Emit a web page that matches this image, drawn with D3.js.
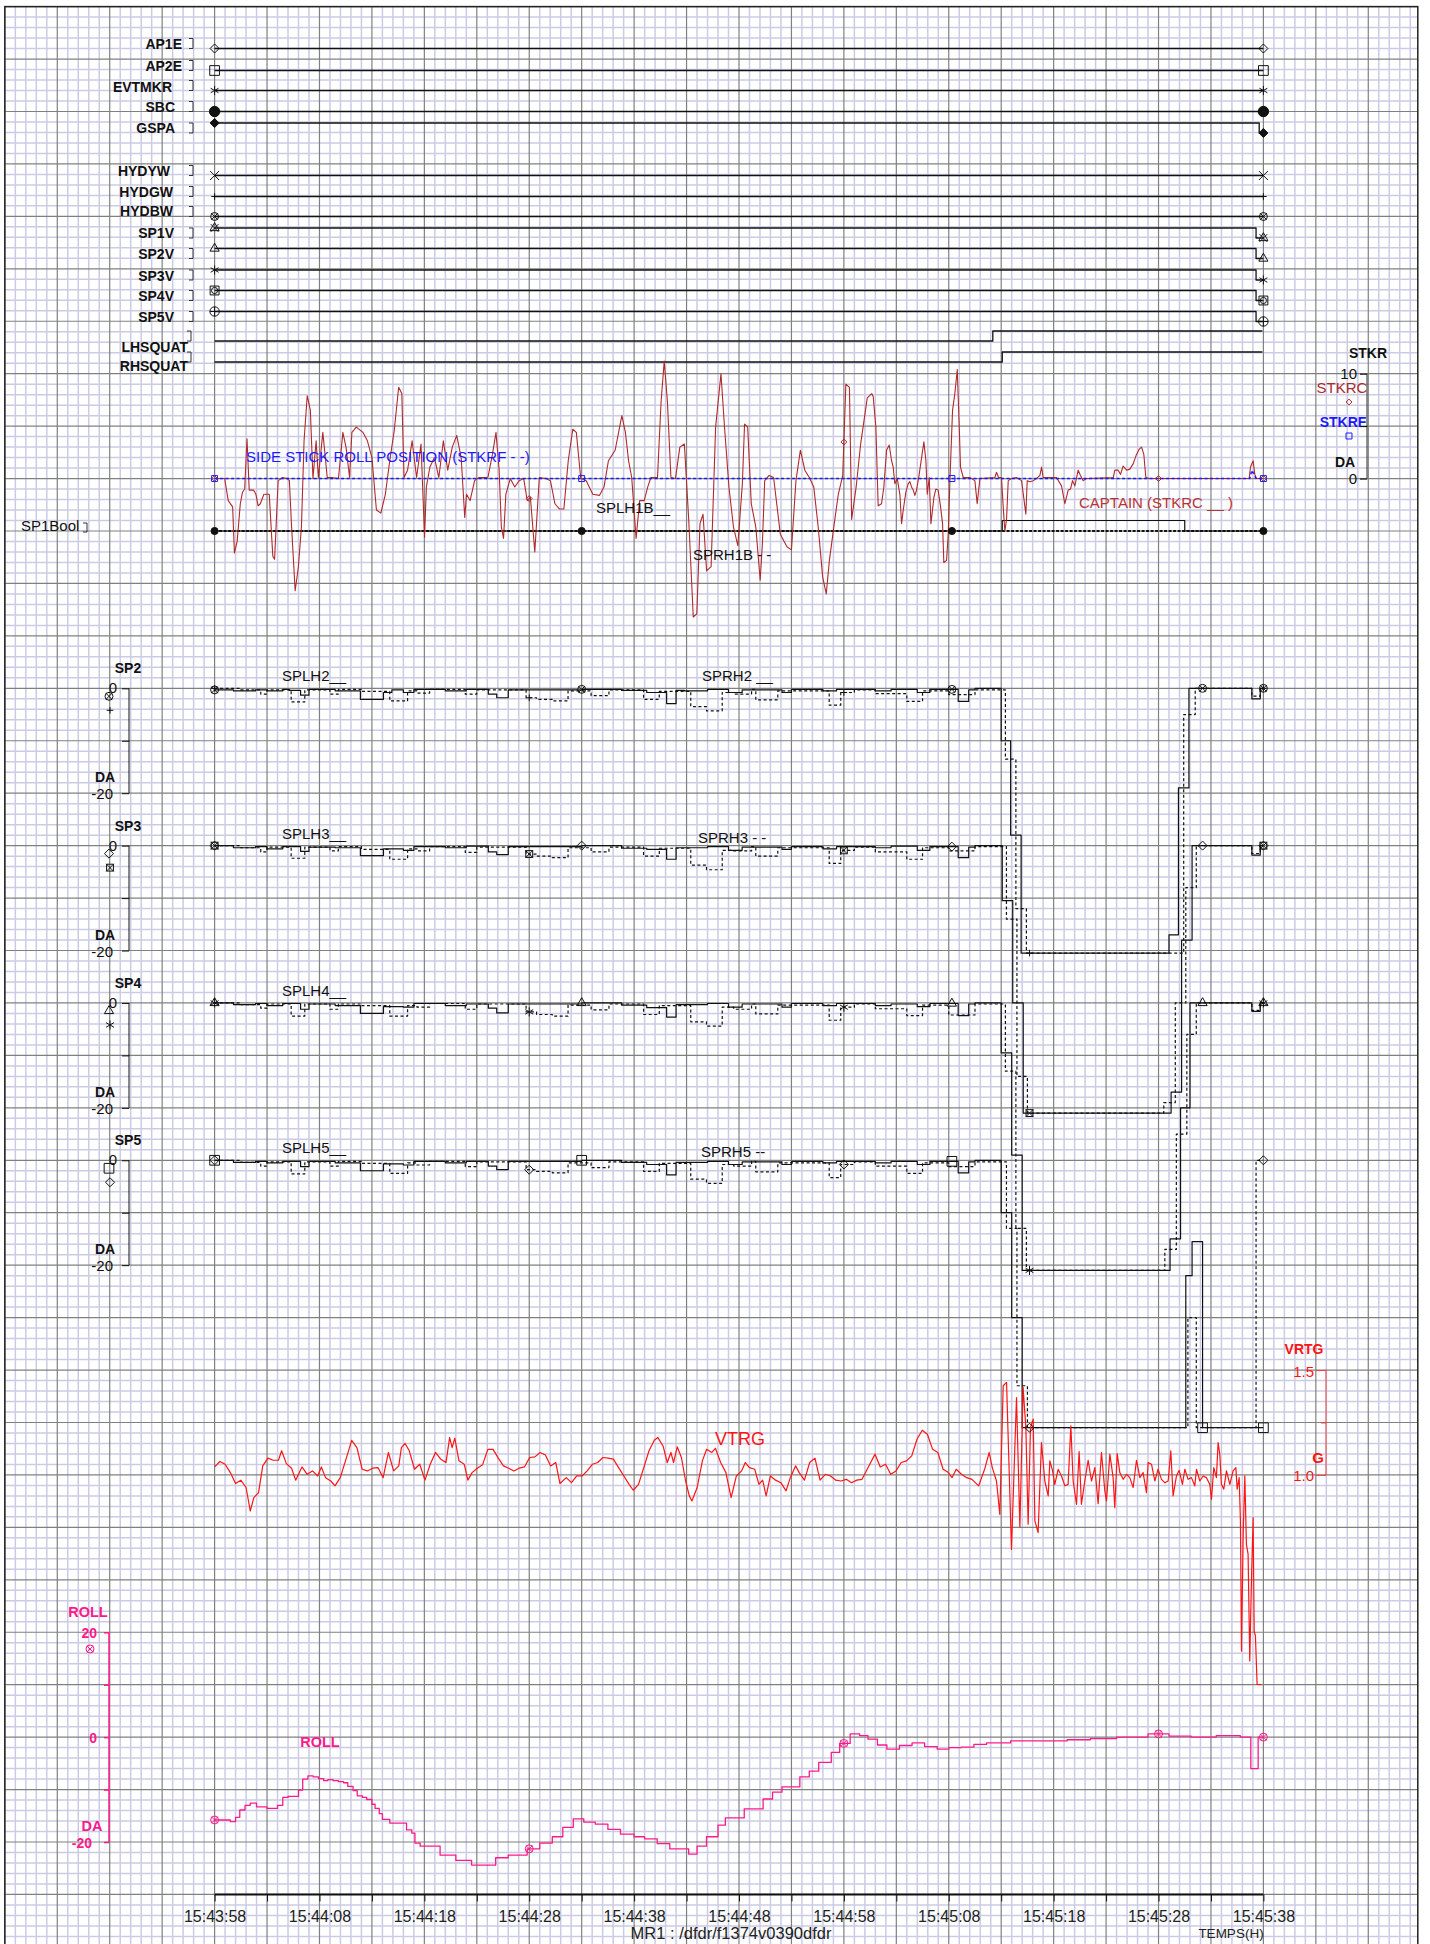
<!DOCTYPE html>
<html>
<head>
<meta charset="utf-8">
<script src="https://cdn.jsdelivr.net/npm/d3@7"></script>
<style>
body { margin: 0; background: #fff; }
text { font-family: "Liberation Sans", Arial, sans-serif; }
</style>
</head>
<body>
<script>
//////////////////////////////////////////////////////////////////////////////
// Data (time in seconds after 15:43:58)

var startClock = [15, 43, 58];
var timeTicks = [0, 10, 20, 30, 40, 50, 60, 70, 80, 90, 100];

var discNames = ["AP1E", "AP2E", "EVTMKR", "SBC", "GSPA", "HYDYW", "HYDGW", "HYDBW",
                 "SP1V", "SP2V", "SP3V", "SP4V", "SP5V", "LHSQUAT", "RHSQUAT"];
var discSteps = [
    [[0, 0], [100, 0]],
    [[0, 0], [100, 0]],
    [[0, 0], [100, 0]],
    [[0, 0], [100, 0]],
    [[0, 1], [99.6, 0], [100, 0]],
    [[0, 0], [100, 0]],
    [[0, 0], [100, 0]],
    [[0, 0], [100, 0]],
    [[0, 1], [99.3, 0], [100, 0]],
    [[0, 1], [99.3, 0], [100, 0]],
    [[0, 1], [99.3, 0], [100, 0]],
    [[0, 1], [99.3, 0], [100, 0]],
    [[0, 1], [99.3, 0], [100, 0]],
    [[0, 0], [74.2, 1], [99.9, 1]],
    [[0, 0], [75.1, 1], [99.9, 1]]
];

// side stick roll, captain (STKRC) and first officer (STKRF), DA
var stkrc = [
[0,0],[0.96,0],[1.30,-2.1],[1.72,-2.7],[1.89,-7.1],[2.15,-6.0],[2.45,-2.4],[2.66,-1.3],[2.87,-1.0],[3.09,3.8],[3.30,-1.1],[3.72,-1.1],[3.94,-1.5],[4.15,-2.6],[4.36,-2.4],[4.70,-1.5],[5.21,-1.5],[5.55,-7.4],[5.72,-7.7],[6.06,-0.2],[6.49,0.1],[6.91,0],[7.13,-0.2],[7.34,-4.6],[7.68,-10.7],[7.98,-8.5],[8.28,-4.6],[8.53,3.6],[8.83,7.9],[9.13,6.5],[9.38,0],[9.68,3.6],[9.89,0.1],[10.32,4.4],[10.74,0.1],[11.17,0.1],[11.81,0],[12.23,4.4],[12.53,3.0],[12.87,0.1],[13.09,4.4],[13.51,4.9],[14.15,4.4],[14.57,3.6],[15.0,2.0],[15.43,-3.0],[15.85,-3.3],[16.28,-1.5],[16.7,1.7],[17.13,4.6],[17.55,8.7],[17.85,8.1],[18.06,0.1],[18.4,0.8],[18.83,3.6],[19.26,0.1],[19.68,3.3],[20.02,-5.6],[20.19,-0.8],[20.53,1.1],[20.96,2.0],[21.38,0.1],[21.81,3.6],[22.23,0.8],[22.66,3.0],[23.09,4.1],[23.51,2.0],[23.85,-3.7],[24.02,-1.5],[24.36,-2.1],[24.79,-0.2],[25.21,0.1],[26.06,0.1],[26.49,2.3],[26.83,4.4],[27.13,0.8],[27.34,-4.6],[27.55,-5.7],[27.77,-1.5],[28.19,0],[28.62,-0.8],[29.04,-0.2],[29.47,0],[29.81,-2.1],[30.11,-1.8],[30.53,-7.0],[30.96,0.1],[31.6,0],[32.02,-0.2],[32.45,-2.4],[32.87,-2.9],[33.3,-2.9],[33.72,1.7],[34.15,4.7],[34.49,4.4],[34.91,0],[35.43,-0.2],[36.06,-1.5],[36.7,-1.6],[37.13,-0.8],[37.55,1.7],[38.19,2.7],[38.83,6.0],[39.17,4.4],[39.47,1.7],[39.77,0.1],[40.19,-5.7],[40.53,-2.1],[40.96,-2.1],[41.3,-0.8],[41.6,0.1],[42.23,0.1],[42.57,7.3],[42.87,11.2],[43.17,7.4],[43.51,0.1],[43.94,0],[44.36,3.0],[44.79,3.3],[45.21,-4.0],[45.64,-13.2],[45.98,-12.9],[46.28,-4.3],[46.57,-3.4],[46.91,-8.8],[47.34,-8.4],[47.77,4.9],[48.28,10.0],[48.62,4.9],[49.04,-0.8],[49.47,-4.6],[49.89,-6.4],[50.32,-0.5],[50.53,5.2],[50.83,4.9],[51.17,-2.4],[51.6,-4.6],[52.02,-9.7],[52.23,-6.2],[52.45,-0.2],[52.87,0.3],[53.3,0.1],[53.94,-5.3],[54.57,-6.5],[55.0,-6.8],[55.43,-0.2],[55.85,2.7],[56.28,0.8],[56.7,0.1],[57.13,-0.8],[57.55,-4.6],[57.98,-9.4],[58.32,-11.0],[58.62,-7.8],[59.04,-4.6],[59.47,-1.5],[59.89,0.3],[60.19,9.0],[60.53,8.7],[60.74,-3.9],[61.17,-0.8],[61.6,3.3],[62.23,7.7],[62.66,8.1],[62.8,7.8],[63.05,4.9],[63.27,-2.6],[63.59,-2.4],[63.81,-0.8],[64.07,2.7],[64.32,3.2],[64.55,1.7],[64.7,1.1],[64.86,-0.5],[65.09,0],[65.34,-1.5],[65.5,-4.3],[65.66,-3.0],[65.91,-1.3],[66.13,-0.5],[66.29,-0.3],[66.45,-0.8],[66.61,-1.1],[66.77,-1.6],[66.93,-1.1],[67.18,0.4],[67.41,2.0],[67.63,3.5],[67.82,1.7],[67.95,-1.5],[68.14,0.1],[68.3,-4.3],[68.45,-3.0],[68.58,-1.8],[68.77,-1.0],[68.99,-1.1],[69.22,-2.7],[69.41,-4.3],[69.53,-8.0],[69.79,-7.8],[69.95,-5.3],[70.11,-0.2],[70.36,6.5],[70.58,8.1],[70.81,10.4],[71.0,4.9],[71.12,1.1],[71.38,0.1],[72.01,0.1],[72.49,-0.2],[72.71,-2.4],[72.97,0],[74.4,0.1],[74.55,0.6],[74.75,0.1],[75.03,0.1],[75.19,-2.7],[75.35,-5.0],[75.51,-3.9],[75.67,-0.2],[75.99,0],[76.46,0.1],[76.94,-0.2],[77.16,-1.9],[77.35,-3.4],[77.48,-0.2],[77.73,-0.3],[78.05,-0.2],[78.37,0],[78.69,0.3],[78.85,1.1],[79.0,0.1],[80.27,0.1],[80.75,-0.7],[81.07,-2.4],[81.39,-1.1],[81.61,-1.0],[81.8,-0.2],[82.02,-0.7],[82.34,0.8],[82.56,0.3],[82.82,-0.2],[83.13,0],[85.68,0.1],[85.84,0.8],[86.15,0.8],[86.38,0.4],[86.63,1.2],[86.95,0.8],[87.27,0.9],[87.58,1.4],[87.9,2.3],[88.16,2.8],[88.38,3.0],[88.6,2.3],[88.79,0.1],[89.17,0],[98.64,0],[98.77,1.1],[99.02,1.7],[99.18,0.4],[99.34,0],[100,0]
];
var stkrf = [[0, 0], [98.7, 0], [98.9, 0.8], [99.3, 0], [100, 0]];

// spoiler 1 booleans
var splh1b = [[0, 0], [75.1, 1], [92.5, 0], [100, 0]];
var sprh1b = [[0, 0], [100, 0]];

// spoilers 2..5, left (solid) and right (dashed), DA
var splh2 = [[0,-0.3],[1.8,-0.5],[3.9,-0.3],[5.0,-0.5],[6.5,-0.2],[7.1,-0.4],[8.2,-1.3],[9.0,-0.2],[11.5,-0.5],[13.9,-2.1],[16.1,-0.8],[16.9,-0.3],[18.0,-0.8],[19.0,-0.2],[22,-0.5],[24,-0.2],[26.1,-1.1],[26.9,-1.8],[28.0,-0.3],[35.0,-0.2],[38.8,-0.4],[41.2,-0.8],[43.1,-2.9],[44.0,-0.4],[44.8,-0.5],[47.0,-0.2],[49.0,-0.8],[50.3,-0.3],[54.1,-0.8],[55.0,-0.2],[58.0,-0.5],[59.3,-0.2],[63,-0.5],[64.5,-0.2],[67,-0.8],[68.2,-0.2],[70.9,-2.5],[71.9,-0.3],[72.5,0],[75.0,-10],[75.9,-28],[76.9,-50.5],[91.0,-47],[91.9,-19],[92.9,0],[98.9,-2],[99.7,0],[100,0]];
var sprh2 = [[0,0],[2.5,-0.3],[4.4,-1.1],[5.0,-0.3],[7.3,-2.6],[8.6,-0.3],[11.0,-1.1],[11.8,-0.2],[14,-0.6],[16.7,-2.4],[18.4,-0.5],[19.3,-0.9],[20.5,-0.2],[23.9,-1.1],[25.0,-0.3],[29.7,-1.8],[30.7,-2.1],[32.2,-2.4],[33.7,-0.5],[35.9,-1.4],[37.6,-0.3],[40.9,-2.1],[42.4,-0.6],[45.4,-3.5],[46.9,-4.3],[48.4,-0.8],[49.5,-1.1],[51.2,-0.2],[51.6,-2.2],[53.7,-0.5],[58.6,-3.2],[59.7,-0.8],[61,-0.3],[63,-1.0],[66,-2.5],[67.5,-0.5],[70,-1.2],[72.5,-0.3],[75.4,-13.5],[76.4,-42],[77.4,-50.5],[92.4,-5],[93.5,0],[98.9,-1.5],[99.7,0],[100,0]];
var splh3 = [[0,0],[1.8,-0.4],[3.9,-0.2],[5.0,-0.6],[6.5,-0.2],[8.2,-1.1],[9.0,-0.3],[11.5,-0.4],[13.9,-1.9],[16.1,-0.6],[18.0,-0.9],[19.0,-0.2],[22,-0.4],[24,-0.1],[26.1,-1.2],[26.9,-1.7],[28.0,-0.2],[35.0,0],[38.8,-0.5],[41.2,-0.7],[43.1,-2.6],[44.0,-0.4],[47.0,-0.2],[49.0,-0.9],[50.3,-0.3],[54.1,-0.7],[55.0,-0.2],[58.0,-0.6],[59.3,-0.2],[63,-0.4],[64.5,-0.1],[67,-0.9],[68.2,-0.2],[70.9,-2.3],[71.9,-0.3],[72.5,0],[75.1,-10.5],[76.1,-30],[77.1,-51],[91.2,-47],[92.2,-18],[93.2,0],[98.9,-1.8],[99.7,0],[100,0]];
var sprh3 = [[0,0],[2.5,-0.4],[4.4,-1.2],[5.0,-0.3],[7.3,-2.4],[8.6,-0.3],[11.0,-1.0],[11.8,-0.2],[14,-0.7],[16.7,-2.6],[18.4,-0.6],[19.3,-1.0],[20.5,-0.2],[23.9,-1.3],[25.0,-0.3],[29.7,-1.6],[30.7,-2.0],[32.2,-2.3],[33.7,-0.4],[35.9,-1.2],[37.6,-0.3],[40.9,-2.0],[42.4,-0.5],[45.4,-3.7],[46.9,-4.6],[48.4,-0.9],[49.5,-1.0],[51.2,-0.2],[51.6,-2.0],[53.7,-0.4],[58.6,-3.4],[59.7,-0.9],[61,-0.3],[63,-1.2],[66,-2.6],[67.5,-0.4],[70,-1.0],[72.5,-0.2],[75.5,-14],[76.5,-44],[77.5,-51],[90.5,-49],[91.6,-30],[92.6,-8],[93.6,0],[98.9,-1.5],[99.7,0],[100,0]];
var splh4 = [[0,0],[1.8,-0.3],[3.9,-0.1],[5.0,-0.5],[6.5,-0.1],[8.2,-1.2],[9.0,-0.2],[11.5,-0.5],[13.9,-2.0],[16.1,-0.7],[18.0,-0.8],[19.0,-0.1],[22,-0.5],[24,-0.2],[26.1,-1.0],[26.9,-1.9],[28.0,-0.2],[35.0,0],[38.8,-0.4],[41.2,-0.9],[43.1,-2.7],[44.0,-0.3],[47.0,-0.1],[49.0,-0.8],[50.3,-0.2],[54.1,-0.8],[55.0,-0.1],[58.0,-0.5],[59.3,-0.1],[63,-0.5],[64.5,-0.2],[67,-0.7],[68.2,-0.1],[70.9,-2.4],[71.9,-0.2],[72.5,0],[75.0,-9.5],[76.0,-29],[77.0,-51],[91.1,-45],[92.1,-20],[93.0,0],[98.9,-1.6],[99.7,0],[100,0]];
var sprh4 = [[0,0],[2.5,-0.3],[4.4,-1.0],[5.0,-0.2],[7.3,-2.5],[8.6,-0.2],[11.0,-1.2],[11.8,-0.2],[14,-0.5],[16.7,-2.5],[18.4,-0.5],[19.3,-0.8],[20.5,-0.1],[23.9,-1.2],[25.0,-0.2],[29.7,-1.7],[30.7,-2.2],[32.2,-2.5],[33.7,-0.4],[35.9,-1.3],[37.6,-0.2],[40.9,-2.2],[42.4,-0.5],[45.4,-3.6],[46.9,-4.4],[48.4,-0.8],[49.5,-1.2],[51.2,-0.2],[51.6,-2.1],[53.7,-0.4],[58.6,-3.3],[59.7,-0.8],[61,-0.2],[63,-1.1],[66,-2.4],[67.5,-0.4],[70,-2.3],[72.5,-0.2],[75.4,-13],[76.4,-43],[77.4,-51],[90.6,-47],[91.7,-25],[92.7,-6],[93.6,0],[98.9,-1.4],[99.7,0],[100,0]];
var splh5 = [[0,0],[1.8,-0.4],[3.9,-0.2],[5.0,-0.5],[6.5,-0.2],[8.2,-1.2],[9.0,-0.2],[11.5,-0.5],[13.9,-2.0],[16.1,-0.7],[18.0,-0.9],[19.0,-0.2],[22,-0.5],[24,-0.2],[26.1,-1.1],[26.9,-1.8],[28.0,-0.2],[35.0,0],[38.8,-0.4],[41.2,-0.8],[43.1,-2.8],[44.0,-0.4],[47.0,-0.2],[49.0,-0.8],[50.3,-0.3],[54.1,-0.8],[55.0,-0.2],[58.0,-0.5],[59.3,-0.2],[63,-0.5],[64.5,-0.2],[67,-0.8],[68.2,-0.2],[70.9,-2.4],[71.9,-0.3],[72.5,0],[75.0,-10],[76.0,-30],[77.0,-51],[92.6,-22],[93.2,-15.5],[94.2,-51],[100,-51]];
var sprh5 = [[0,0],[2.5,-0.4],[4.4,-1.1],[5.0,-0.3],[7.3,-2.6],[8.6,-0.3],[11.0,-1.1],[11.8,-0.2],[14,-0.6],[16.7,-2.5],[18.4,-0.5],[19.3,-0.9],[20.5,-0.2],[23.9,-1.2],[25.0,-0.3],[29.7,-1.8],[30.7,-2.1],[32.2,-2.4],[33.7,-0.5],[35.9,-1.4],[37.6,-0.3],[40.9,-2.1],[42.4,-0.6],[45.4,-3.6],[46.9,-4.4],[48.4,-0.8],[49.5,-1.1],[51.2,-0.2],[51.6,-2.2],[53.7,-0.5],[58.6,-3.3],[59.7,-0.8],[61,-0.3],[63,-1.1],[66,-2.5],[67.5,-0.5],[70,-1.2],[72.5,-0.3],[75.5,-13],[76.5,-43],[77.5,-51],[92.8,-30],[93.6,-51],[99.3,0],[100,0]];

// vertical acceleration, G
var vrtg = [
[0,1.038],[0.5,1.064],[1.0,1.051],[1.5,1.011],[2.0,0.959],[2.5,0.975],[3.0,0.940],[3.4,0.828],[3.74,0.892],[4.19,0.916],[4.59,1.043],[5.09,1.080],[5.59,1.070],[6.09,1.070],[6.39,1.115],[6.84,1.054],[7.34,1.032],[7.73,0.975],[8.33,1.038],[8.83,1.003],[9.33,1.019],[9.83,0.995],[10.18,1.038],[10.58,0.987],[11.08,0.971],[11.48,0.948],[11.98,0.987],[12.48,1.067],[13.07,1.165],[13.57,1.130],[14.07,1.027],[14.57,1.019],[15.07,1.032],[15.57,1.035],[16.07,0.987],[16.57,1.107],[17.07,1.019],[17.56,1.043],[17.81,1.130],[18.16,1.150],[18.56,1.115],[19.06,1.027],[19.56,1.051],[20.06,0.975],[20.56,1.051],[21.06,1.107],[21.56,1.075],[22.06,1.059],[22.41,1.178],[22.65,1.130],[22.9,1.175],[23.3,1.067],[23.8,1.051],[24.15,0.975],[24.55,1.011],[25.05,1.032],[25.55,1.048],[26.05,1.122],[26.55,1.122],[27.05,1.080],[27.54,1.043],[28.04,1.032],[28.54,1.019],[29.04,1.032],[29.54,1.038],[30.04,1.083],[30.54,1.086],[31.04,1.107],[31.54,1.095],[32.04,1.043],[32.53,1.059],[32.93,0.959],[33.53,0.987],[34.03,0.963],[34.53,0.995],[35.03,0.995],[35.53,1.019],[36.03,1.051],[36.53,1.059],[37.03,1.083],[37.52,1.080],[38.02,1.075],[38.52,1.035],[39.02,0.995],[39.52,0.955],[39.92,0.927],[40.42,0.955],[40.92,1.035],[41.42,1.115],[41.92,1.165],[42.27,1.178],[42.76,1.138],[43.16,1.059],[43.51,1.107],[43.76,1.059],[44.11,1.134],[44.51,1.083],[44.91,0.971],[45.26,0.900],[45.51,0.876],[46.01,0.940],[46.51,1.067],[46.91,1.122],[47.41,1.107],[47.75,1.127],[48.25,1.059],[48.75,1.011],[49.25,0.892],[49.75,0.995],[50.25,1.019],[50.6,1.059],[51.0,1.035],[51.5,1.027],[51.9,0.955],[52.25,0.975],[52.59,0.900],[52.99,0.995],[53.49,0.975],[53.99,0.963],[54.49,0.924],[54.89,0.987],[55.39,1.043],[55.74,1.011],[56.24,0.975],[56.74,1.059],[57.24,1.080],[57.73,0.975],[58.23,1.003],[58.73,0.995],[59.23,0.975],[59.73,0.971],[60.23,0.979],[60.73,0.963],[61.23,0.975],[61.73,0.979],[62.38,1.043],[62.97,1.099],[63.47,1.038],[63.97,1.051],[64.47,1.003],[64.97,1.019],[65.47,1.059],[65.97,1.067],[66.47,1.091],[66.97,1.170],[67.47,1.213],[67.96,1.194],[68.46,1.122],[68.96,1.107],[69.46,1.027],[69.96,1.011],[70.31,0.987],[70.71,1.027],[71.21,1.003],[71.71,0.987],[72.21,0.979],[72.85,0.948],[73.45,1.032],[73.85,1.107],[74.15,1.035],[74.55,0.971],
[74.87,0.812],[75.19,1.425],[75.51,1.441],[75.98,0.645],[76.3,1.130],[76.46,1.369],[76.78,0.752],[77.09,1.417],[77.35,1.226],[77.57,0.765],[77.79,1.226],[78.05,1.266],[78.21,0.781],[78.52,0.725],[78.84,1.154],[79.16,0.971],[79.48,0.900],[79.64,1.067],[79.89,1.022],[80.11,0.955],[80.43,1.027],[80.75,0.995],[81.07,0.948],[81.38,0.955],[81.64,1.234],[81.86,0.971],[82.18,0.860],[82.43,1.111],[82.65,0.860],[82.97,0.971],[83.29,1.070],[83.61,0.971],[83.93,1.035],[84.24,0.863],[84.56,1.107],[84.88,0.924],[85.04,0.876],[85.36,1.099],[85.67,0.987],[85.83,0.844],[86.06,1.102],[86.31,1.011],[86.63,0.979],[86.95,1.003],[87.26,0.987],[87.58,0.940],[87.9,1.070],[88.22,0.987],[88.53,1.011],[88.85,0.916],[89.01,1.059],[89.33,1.051],[89.65,0.971],[89.96,1.027],[90.28,0.979],[90.6,0.963],[90.92,0.971],[91.17,1.115],[91.39,0.900],[91.71,0.995],[91.97,1.022],[92.28,0.955],[92.51,1.027],[92.82,0.979],[93.14,0.987],[93.46,0.948],[93.62,1.027],[93.94,0.971],[94.25,0.995],[94.57,0.987],[94.89,0.955],[95.05,0.884],[95.27,1.035],[95.52,0.987],[95.68,1.154],[95.84,1.099],[96.0,0.955],[96.22,0.932],[96.48,1.019],[96.8,0.955],[97.11,1.019],[97.37,1.035],[97.5,0.932],[97.69,0.987],[97.81,0.781],[97.91,0.160],[98.07,0.717],[98.23,0.995],[98.38,0.669],[98.54,0.622],[98.7,0.113],[98.86,0.494],[99.02,0.796],[99.12,0.256],[99.24,0.232],[99.4,0.001],[99.81,0.0]
];

// roll attitude, DA
var roll = [[0,-15.8],[1.5,-16.1],[2.0,-15.3],[2.4,-13.9],[2.9,-13.0],[3.4,-12.6],[4.0,-13.3],[5.0,-13.6],[6.0,-13.0],[6.5,-11.5],[7.0,-11.3],[8.0,-10.1],[8.4,-8.0],[8.9,-7.4],[9.4,-7.6],[9.9,-7.9],[10.4,-8.3],[10.8,-8.1],[11.3,-8.3],[11.8,-8.5],[12.3,-8.7],[12.7,-9.4],[13.2,-10.2],[13.6,-11.2],[14.1,-11.5],[14.5,-11.9],[15.0,-12.8],[15.3,-13.6],[15.7,-14.6],[16.0,-15.7],[16.7,-16.4],[18.3,-17.7],[18.8,-18.3],[19.1,-20.2],[19.6,-20.8],[21.5,-22.5],[23,-23.5],[24.5,-24.4],[26.8,-23],[28,-22.5],[29.8,-21.3],[31,-20.2],[32.2,-19],[33.2,-17.2],[34.2,-15.6],[35.2,-16.2],[36.3,-16.6],[37.5,-17.6],[38.7,-18.5],[40,-19],[41,-19.4],[42.2,-20.3],[43.4,-21.3],[45.2,-22.3],[46,-20.8],[46.9,-19],[48,-16.8],[48.7,-15.4],[50.5,-13.7],[52.3,-11.8],[53.2,-10.5],[54.1,-9.5],[55.8,-7.6],[56.7,-6.5],[57.6,-4.8],[58.8,-2.9],[59.6,-1.2],[60.6,0.6],[61.5,0.3],[62.3,-0.4],[63.2,-1.5],[64.1,-2.3],[65.3,-1.6],[66.5,-1.1],[67.7,-1.8],[68.9,-2.3],[70,-2.0],[71.2,-1.9],[72.4,-1.4],[73.6,-1.1],[75.9,-0.7],[78.5,-0.7],[81.3,-0.5],[83.5,-0.3],[86,0],[89,0.6],[91,0.2],[93.1,0],[95.5,0.3],[97.8,0],[98.8,-6],[99.2,-6],[99.5,0],[100,0]];

// times where the recorder drew its symbols
var markTimesA = [0, 35, 70.3, 100];
var markTimesB = [0, 30, 60, 90, 100];
var spMarkTimesL = [0, 35, 70.3, 94.2, 100];
var spMarkTimesR = [0, 30, 60, 77.7, 100];

//////////////////////////////////////////////////////////////////////////////
// Layout

var W = 1430, H = 1944;
var u = 10.488;                  // one small square
var gx0 = 214.6, gy0 = 6.6;
function gy(k) { return gy0 + k * u; }

var x = d3.scaleLinear().domain([0, 100]).range([gx0, gx0 + 100 * u]);

var stkY  = d3.scaleLinear().domain([0, 10]).range([gy(45), gy(35)]);
var boolY = d3.scaleLinear().domain([0, 1]).range([gy(50), gy(49)]);
var vrtgY = d3.scaleLinear().domain([1.0, 1.5]).range([gy(140), gy(130)]);
var rollY = d3.scaleLinear().domain([-20, 20]).range([gy(175), gy(155)]);
function spScale(i) {
    return d3.scaleLinear().domain([0, -20]).range([gy(65 + 15 * i), gy(75 + 15 * i)]);
}

var discBase   = [48.5, 70.5, 90.5, 111.5, 133, 175.5, 196.5, 216.5, 238, 258.5, 280, 300.5, 321.5, 341, 362];
var discLabelY = [49, 71, 92, 112, 133, 176, 197, 216, 238, 259, 281, 301, 322, 352, 371];
var discLabelX = [182, 182, 172, 175, 175, 170, 173, 173, 174, 174, 174, 174, 174, 188, 188];
var discMarks  = ["diamond", "square", "asterisk", "dot", "diamondFill", "times", "plus", "circleX",
                  "triangleX", "triangle", "asterisk", "squareCircle", "circlePlus", null, null];

var RED_STK = "#b02a2a", BLUE = "#1a1aff", RED = "#ff1414", PINK = "#ff1a8c";

var svg = d3.select("body").append("svg")
    .attr("width", W)
    .attr("height", H);

svg.append("rect").attr("width", W).attr("height", H).attr("fill", "#fff");

//////////////////////////////////////////////////////////////////////////////
// Paper grid

svg.append("defs").append("clipPath").attr("id", "paper")
    .append("rect").attr("x", 4.8).attr("y", gy0).attr("width", 1413).attr("height", H);

var grid = svg.append("g").attr("clip-path", "url(#paper)");
var cols = d3.range(-20, 116), rows = d3.range(0, 187);

function gridLines(major) {
    var g = grid.append("g")
        .attr("stroke", major ? "#808080" : "#cbcbe6")
        .attr("stroke-width", major ? 1.2 : 1.5);
    g.selectAll("line.v")
        .data(cols.filter(function(c) { return (c % 5 === 0) === major; }))
        .enter().append("line")
        .attr("x1", function(c) { return x(c); }).attr("x2", function(c) { return x(c); })
        .attr("y1", 0).attr("y2", H);
    g.selectAll("line.h")
        .data(rows.filter(function(r) { return (r % 5 === 0) === major; }))
        .enter().append("line")
        .attr("y1", function(r) { return gy(r); }).attr("y2", function(r) { return gy(r); })
        .attr("x1", 0).attr("x2", W);
}
gridLines(false);
gridLines(true);

svg.append("rect")
    .attr("x", 4.8).attr("y", gy0).attr("width", 1413).attr("height", H)
    .attr("fill", "none").attr("stroke", "#222").attr("stroke-width", 1.5);

//////////////////////////////////////////////////////////////////////////////
// Helpers

var markerParts = {
    diamond:      [[d3.symbolDiamond2, 52, false]],
    square:       [[d3.symbolSquare2, 120, false]],
    asterisk:     [[d3.symbolAsterisk, 58, false]],
    dot:          [[d3.symbolCircle, 85, true]],
    diamondFill:  [[d3.symbolDiamond2, 52, true]],
    times:        [[d3.symbolTimes, 55, false]],
    plus:         [[d3.symbolPlus, 16, false]],
    circleX:      [[d3.symbolCircle, 50, false], [d3.symbolTimes, 28, false]],
    triangleX:    [[d3.symbolTriangle2, 60, false], [d3.symbolTimes, 40, false]],
    triangle:     [[d3.symbolTriangle2, 60, false]],
    squareCircle: [[d3.symbolSquare2, 100, false], [d3.symbolCircle, 30, false]],
    circlePlus:   [[d3.symbolCircle, 70, false], [d3.symbolPlus, 30, false]],
    squareX:      [[d3.symbolSquare2, 60, false], [d3.symbolTimes, 40, false]],
    smallDiamond: [[d3.symbolDiamond2, 22, false]],
    smallSquare:  [[d3.symbolSquare2, 45, false]],
    smallDot:     [[d3.symbolCircle, 40, true]]
};

function marker(g, kind, cx, cy, color) {
    if (!kind) return;
    var m = g.append("g").attr("transform", "translate(" + cx + "," + cy + ")");
    markerParts[kind].forEach(function(p) {
        m.append("path")
            .attr("d", d3.symbol().type(p[0]).size(p[1])())
            .attr("fill", p[2] ? color : "none")
            .attr("stroke", color)
            .attr("stroke-width", 1);
    });
}

function stepAt(data, t) {
    var v = data[0][1];
    data.forEach(function(d) { if (d[0] <= t) v = d[1]; });
    return v;
}

function linearAt(data, t) {
    var i = d3.bisector(function(d) { return d[0]; }).left(data, t);
    if (i <= 0) return data[0][1];
    if (i >= data.length) return data[data.length - 1][1];
    var a = data[i - 1], b = data[i];
    return a[1] + (b[1] - a[1]) * (t - a[0]) / (b[0] - a[0]);
}

function trace(data, yScale, curve, color, width, dash) {
    var line = d3.line()
        .x(function(d) { return x(d[0]); })
        .y(function(d) { return yScale(d[1]); })
        .curve(curve);
    return svg.append("path")
        .datum(data)
        .attr("d", line)
        .attr("fill", "none")
        .attr("stroke", color)
        .attr("stroke-width", width)
        .attr("stroke-dasharray", dash || null)
        .attr("stroke-linejoin", "round");
}

function label(txt, px, py, opts) {
    opts = opts || {};
    return svg.append("text")
        .attr("x", px).attr("y", py)
        .attr("text-anchor", opts.anchor || "start")
        .attr("font-size", opts.size || 15)
        .attr("font-weight", opts.bold ? "bold" : "normal")
        .attr("fill", opts.color || "#111")
        .text(txt);
}

function bracket(bx, yTop, yBot) {
    svg.append("path")
        .attr("d", "M" + (bx - 4) + "," + yTop + "H" + bx + "V" + yBot + "H" + (bx - 4))
        .attr("fill", "none").attr("stroke", "#333").attr("stroke-width", 1);
}

//////////////////////////////////////////////////////////////////////////////
// Discrete parameters

var marks = svg.append("g");
discNames.forEach(function(name, i) {
    var ys = d3.scaleLinear().domain([0, 1]).range([discBase[i], discBase[i] - 10]);
    var data = discSteps[i];
    trace(data, ys, d3.curveStepAfter, "#111", 1.3);
    label(name, discLabelX[i], discLabelY[i], { anchor: "end", bold: true, size: 14 });
    bracket(i >= 13 ? 191 : 193, discBase[i] - 10, discBase[i]);
    var last = data[data.length - 1];
    marker(marks, discMarks[i], x(0), ys(data[0][1]), "#111");
    marker(marks, discMarks[i], x(last[0]), ys(last[1]), "#111");
});

//////////////////////////////////////////////////////////////////////////////
// Side stick roll + spoiler 1

trace(sprh1b, boolY, d3.curveStepAfter, "#111", 2.2, "3,1.5");
trace(splh1b, boolY, d3.curveStepAfter, "#111", 1.2);
markTimesA.forEach(function(t) { marker(marks, "smallDot", x(t), boolY(stepAt(sprh1b, t)), "#111"); });
label("SP1Bool", 21, 531, { size: 15 });
bracket(87, 523, 532);

trace(stkrc, stkY, d3.curveLinear, RED_STK, 1.1);
trace(stkrf, stkY, d3.curveLinear, BLUE, 1.5, "3,2.5");
markTimesB.forEach(function(t) { marker(marks, "smallDiamond", x(t), stkY(linearAt(stkrc, t)), RED_STK); });
markTimesA.forEach(function(t) { marker(marks, "smallSquare", x(t), stkY(linearAt(stkrf, t)), BLUE); });

label("SIDE STICK ROLL POSITION (STKRF - -)", 246, 462, { color: BLUE });
label("SPLH1B__", 596, 513);
label("SPRH1B - -", 693, 560);
label("CAPTAIN (STKRC __ )", 1079, 508, { color: "#b83434" });

// right axis STKR
var stkAxis = svg.append("g").attr("transform", "translate(1367,0)");
stkAxis.call(d3.axisLeft(stkY).tickValues([0, 5, 10]).tickSize(7).tickFormat(function(d) { return d === 5 ? "" : d; }));
stkAxis.select(".domain").attr("d", "M0," + stkY(0) + "V" + stkY(10)).attr("stroke", "#333");
stkAxis.selectAll("text").attr("font-size", 15).attr("font-family", "Liberation Sans, Arial").attr("x", -10).attr("fill", "#111");
label("STKR", 1368, 358, { anchor: "middle", bold: true, size: 14 });
label("STKRC", 1342, 393, { anchor: "middle", color: RED_STK });
marker(marks, "smallDiamond", 1349, 402, RED_STK);
label("STKRF", 1343, 427, { anchor: "middle", bold: true, size: 14, color: BLUE });
marker(marks, "smallSquare", 1349, 436, BLUE);
label("DA", 1345, 467, { anchor: "middle", bold: true, size: 14 });

//////////////////////////////////////////////////////////////////////////////
// Spoilers 2..5

var spLeft = [splh2, splh3, splh4, splh5];
var spRight = [sprh2, sprh3, sprh4, sprh5];
var spMarkL = ["circleX", "diamond", "triangle", "square"];
var spMarkR = ["plus", "squareX", "asterisk", "diamond"];
var spNames = ["2", "3", "4", "5"];

spLeft.forEach(function(dataL, i) {
    var ys = spScale(i);
    var dataR = spRight[i];
    trace(dataR, ys, d3.curveStepAfter, "#111", 1.2, "3,2.5");
    trace(dataL, ys, d3.curveStepAfter, "#111", 1.2);
    spMarkTimesL.forEach(function(t) { marker(marks, spMarkL[i], x(t), ys(stepAt(dataL, t)), "#111"); });
    spMarkTimesR.forEach(function(t) { marker(marks, spMarkR[i], x(t), ys(stepAt(dataR, t)), "#111"); });

    var ax = svg.append("g").attr("transform", "translate(129,0)");
    ax.call(d3.axisLeft(ys).tickValues([0, -10, -20]).tickSize(7).tickFormat(""));
    ax.select(".domain").attr("d", "M0," + ys(0) + "V" + ys(-20)).attr("stroke", "#111");
    ax.selectAll(".tick line").attr("stroke", "#111");

    label("SP" + spNames[i], 128, ys(0) - 15, { anchor: "middle", bold: true, size: 14 });
    label("0", 117, ys(0) + 5, { anchor: "end" });
    label("DA", 105, ys(-20) - 11, { anchor: "middle", bold: true, size: 14 });
    label("-20", 113, ys(-20) + 6, { anchor: "end" });
    marker(marks, spMarkL[i], 109, ys(0) + 8, "#111");
    marker(marks, spMarkR[i], 110, ys(0) + 22, "#111");

    label("SPLH" + spNames[i] + "__", 282, ys(0) - 7);
});
label("SPRH2 __", 702, spScale(0)(0) - 7);
label("SPRH3 - -", 698, spScale(1)(0) - 3);
label("SPRH5 --", 701, spScale(3)(0) - 3);

//////////////////////////////////////////////////////////////////////////////
// VRTG

trace(vrtg, vrtgY, d3.curveLinear, RED, 1.2);
label("VTRG", 715, 1445, { color: RED, size: 18 });

var gAxis = svg.append("g").attr("transform", "translate(1326,0)");
gAxis.call(d3.axisLeft(vrtgY).tickValues([1.0, 1.25, 1.5]).tickSize(10)
    .tickFormat(function(d) { return d === 1.25 ? "" : d3.format(".1f")(d); }));
gAxis.select(".domain").attr("d", "M0," + vrtgY(1.0) + "V" + vrtgY(1.5)).attr("stroke", "#f04040");
gAxis.selectAll(".tick line").attr("stroke", "#f04040")
    .attr("x2", function(d) { return d === 1.25 ? -5 : -10; });
gAxis.selectAll("text").attr("font-size", 15).attr("font-family", "Liberation Sans, Arial").attr("fill", RED).attr("x", -12).attr("dy", "0.4em");
label("VRTG", 1304, 1354, { anchor: "middle", bold: true, size: 14, color: RED });
label("G", 1318, 1463, { anchor: "middle", bold: true, size: 15, color: RED });

//////////////////////////////////////////////////////////////////////////////
// ROLL

trace(roll, rollY, d3.curveStepAfter, PINK, 1.3);
markTimesB.forEach(function(t) { marker(marks, "circleX", x(t), rollY(stepAt(roll, t)), PINK); });
label("ROLL", 320, 1747, { anchor: "middle", bold: true, size: 14.5, color: PINK });

var rAxis = svg.append("g").attr("transform", "translate(109,0)");
rAxis.call(d3.axisLeft(rollY).tickValues([-20, -10, 0, 10, 20]).tickSize(5).tickFormat(""));
rAxis.select(".domain").attr("d", "M0," + rollY(-20) + "V" + rollY(20)).attr("stroke", PINK).attr("stroke-width", 1.5);
rAxis.selectAll(".tick line").attr("stroke", PINK).attr("stroke-width", 1.5);
label("ROLL", 88, 1617, { anchor: "middle", bold: true, size: 14.5, color: PINK });
label("20", 97, rollY(20) + 6, { anchor: "end", bold: true, size: 14, color: PINK });
label("0", 97, rollY(0) + 6, { anchor: "end", bold: true, size: 14, color: PINK });
label("DA", 92, 1831, { anchor: "middle", bold: true, size: 14.5, color: PINK });
label("-20", 92, rollY(-20) + 6, { anchor: "end", bold: true, size: 14, color: PINK });
marker(marks, "circleX", 90, 1649, PINK);

//////////////////////////////////////////////////////////////////////////////
// Time axis

function clock(t) {
    var d = new Date(2000, 0, 1, startClock[0], startClock[1], startClock[2] + t);
    return d3.timeFormat("%H:%M:%S")(d);
}

var tAxis = svg.append("g").attr("transform", "translate(0," + gy(180) + ")");
tAxis.call(d3.axisBottom(x).tickValues(d3.range(0, 101, 5)).tickSize(7)
    .tickFormat(function(t) { return timeTicks.indexOf(t) >= 0 ? clock(t) : ""; }));
tAxis.select(".domain").attr("d", "M" + x(0) + ",0H" + x(100)).attr("stroke", "#111").attr("stroke-width", 2);
tAxis.selectAll(".tick line").attr("stroke", "#111");
tAxis.selectAll("text").attr("font-size", 16).attr("font-family", "Liberation Sans, Arial")
    .attr("fill", "#222").attr("y", 28).attr("dy", 0);

label("MR1 : /dfdr/f1374v0390dfdr", 731, 1939, { anchor: "middle", size: 16.5, color: "#222" });
label("TEMPS(H)", 1231, 1938, { anchor: "middle", size: 13.5, color: "#222" });

marks.raise();
</script>
</body>
</html>
